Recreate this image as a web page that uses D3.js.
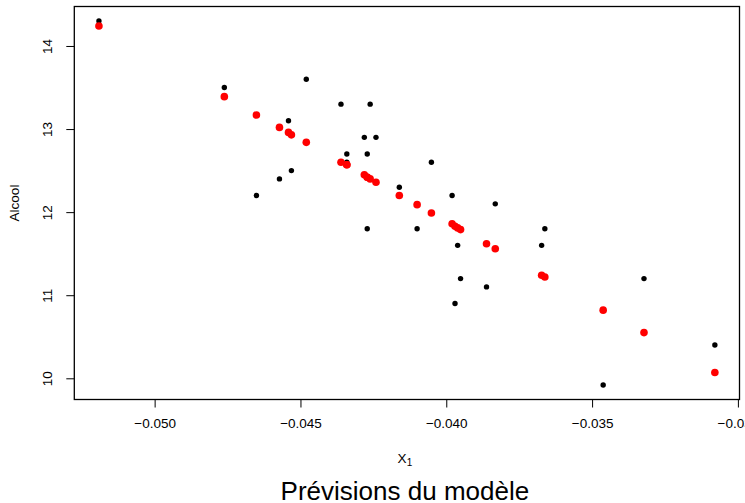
<!DOCTYPE html>
<html>
<head>
<meta charset="utf-8">
<script src="https://cdn.jsdelivr.net/npm/d3@7"></script>
<style>
  body { margin: 0; background: #fff; }
  svg { display: block; font-family: "Liberation Sans", Arial, sans-serif; }
</style>
</head>
<body>
<div id="chart"></div>
<script>
// X1 values (first component), observed alcohol and model predictions
const x1 = [-0.05191, -0.04761, -0.04651, -0.04572, -0.04541, -0.04531, -0.04480,
    -0.04361, -0.04341, -0.04341, -0.04281, -0.04271, -0.04271, -0.04261, -0.04241,
    -0.04161, -0.04100, -0.04051, -0.03980, -0.03970, -0.03961, -0.03951, -0.03862,
    -0.03832, -0.03673, -0.03662, -0.03462, -0.03322, -0.03079];
const alcool = [14.3, 13.5, 12.2, 12.4, 13.1, 12.5, 13.6,
    13.3, 12.7, 12.6, 12.9, 12.7, 11.8, 13.3, 12.9,
    12.3, 11.8, 12.6, 12.2, 10.9, 11.6, 11.2, 11.1,
    12.1, 11.6, 11.8, 9.92, 11.2, 10.4];
const prevision = [14.24, 13.39, 13.17, 13.02, 12.96, 12.93, 12.84,
    12.60, 12.57, 12.57, 12.45, 12.42, 12.42, 12.40, 12.36,
    12.20, 12.09, 11.99, 11.86, 11.83, 11.81, 11.79, 11.62,
    11.56, 11.24, 11.22, 10.82, 10.55, 10.07];
const xTicks = [-0.050, -0.045, -0.040, -0.035, -0.030];
const yTicks = [10, 11, 12, 13, 14];

const width = 745, height = 503;
const plot = {left: 74.3, right: 739.5, top: 6.5, bottom: 399.5};

// R style: 4% padding around the data range
function padded(values) {
    const [lo, hi] = d3.extent(values);
    const r = hi - lo;
    return [lo - 0.04 * r, hi + 0.04 * r];
}

const x = d3.scaleLinear().domain(padded(x1)).range([plot.left, plot.right]);
const y = d3.scaleLinear().domain(padded(alcool)).range([plot.bottom, plot.top]);

const svg = d3.select("#chart")
    .append("svg")
    .attr("width", width)
    .attr("height", height);

const fmt = d => d3.format(".3f")(d).replace("-", "\u2212");

const xAxis = svg.append("g")
    .attr("transform", `translate(0,${plot.bottom})`)
    .call(d3.axisBottom(x).tickValues(xTicks).tickFormat(fmt).tickSize(8).tickPadding(11));
xAxis.select(".domain").remove();
xAxis.selectAll("line").attr("stroke", "#000");
xAxis.selectAll("text")
    .attr("fill", "#000")
    .style("font-size", "13.5px")
    .style("font-family", "Liberation Sans, Arial, sans-serif");

const yAxis = svg.append("g")
    .attr("transform", `translate(${plot.left},0)`)
    .call(d3.axisLeft(y).tickValues(yTicks).tickFormat(d3.format("d")).tickSize(8));
yAxis.select(".domain").remove();
yAxis.selectAll("line").attr("stroke", "#000");
// tick groups are already moved to y(d); rotate the labels in place
yAxis.selectAll("text")
    .attr("x", null)
    .attr("y", null)
    .attr("dy", null)
    .attr("fill", "#000")
    .attr("text-anchor", "middle")
    .attr("dominant-baseline", "central")
    .attr("transform", "translate(-27,0) rotate(-90)")
    .style("font-size", "13.5px")
    .style("font-family", "Liberation Sans, Arial, sans-serif");

// box around plot region
svg.append("rect")
    .attr("x", plot.left)
    .attr("y", plot.top)
    .attr("width", plot.right - plot.left)
    .attr("height", plot.bottom - plot.top)
    .attr("fill", "none")
    .attr("stroke", "#000")
    .attr("stroke-width", 1.3);

// observed values
svg.append("g")
    .selectAll("circle")
    .data(x1)
    .enter()
    .append("circle")
    .attr("cx", d => x(d))
    .attr("cy", (d, i) => y(alcool[i]))
    .attr("r", 2.7)
    .attr("fill", "#000");

// predictions
svg.append("g")
    .selectAll("circle")
    .data(x1)
    .enter()
    .append("circle")
    .attr("cx", d => x(d))
    .attr("cy", (d, i) => y(prevision[i]))
    .attr("r", 3.8)
    .attr("fill", "#ff0000");

// axis titles
const midX = (plot.left + plot.right) / 2;
const xlab = svg.append("text")
    .attr("x", midX - 2)
    .attr("y", 463)
    .attr("text-anchor", "middle")
    .style("font-size", "13.5px");
xlab.append("tspan").text("X");
xlab.append("tspan").attr("dy", 3).style("font-size", "10px").text("1");

svg.append("text")
    .attr("transform", `translate(19,${(plot.top + plot.bottom) / 2}) rotate(-90)`)
    .attr("text-anchor", "middle")
    .style("font-size", "13.5px")
    .text("Alcool");

svg.append("text")
    .attr("x", midX - 2)
    .attr("y", 500)
    .attr("text-anchor", "middle")
    .style("font-size", "26px")
    .text("Prévisions du modèle");
</script>
</body>
</html>
